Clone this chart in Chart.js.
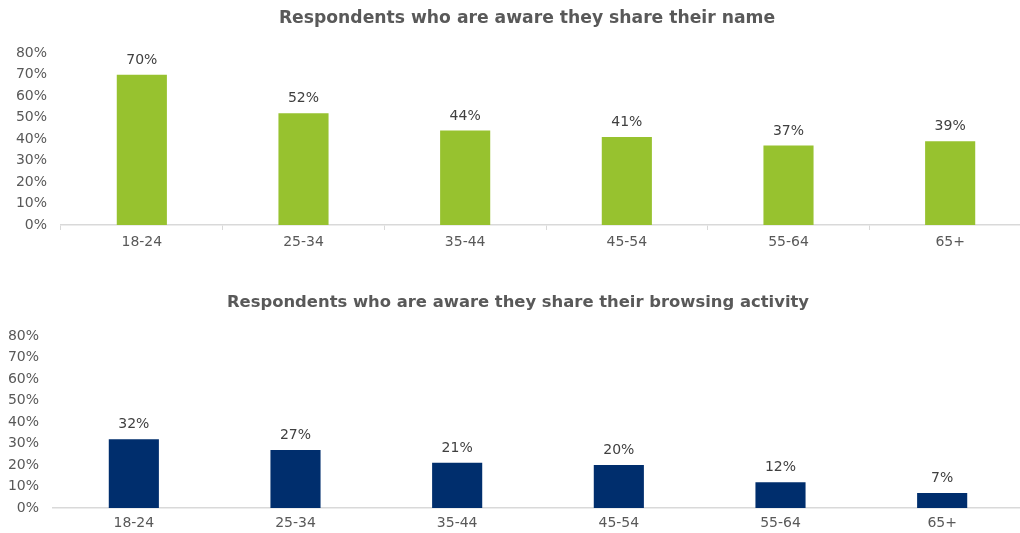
<!DOCTYPE html>
<html>
<head>
<meta charset="utf-8">
<script src="https://cdn.jsdelivr.net/npm/chart.js@4.4.1/dist/chart.umd.min.js"></script>
<style>
  html, body { margin: 0; padding: 0; background: #fff; overflow: hidden; }
  body { width: 1020px; height: 533px; position: relative; }
  canvas { position: absolute; left: 0; }
</style>
</head>
<body>
<canvas id="nameChart" width="1054" height="260" style="top:0"></canvas>
<canvas id="browsingChart" width="1036" height="258" style="top:283px"></canvas>
<script>
const ageGroups = ["18-24", "25-34", "35-44", "45-54", "55-64", "65+"];
const awareName = [70, 52, 44, 41, 37, 39];
const awareBrowsing = [32, 27, 21, 20, 12, 7];

const FONT = "'DejaVu Sans', Verdana, sans-serif";
const GREY = "#595959";

// draws "NN%" above each bar
const valueLabels = {
  id: "valueLabels",
  afterDatasetsDraw(chart) {
    const ctx = chart.ctx;
    const values = chart.data.datasets[0].data;
    ctx.save();
    ctx.font = "14px " + FONT;
    ctx.fillStyle = "#404040";
    ctx.textAlign = "center";
    ctx.textBaseline = "alphabetic";
    chart.getDatasetMeta(0).data.forEach((bar, i) => {
      ctx.fillText(values[i] + "%", bar.x, bar.y - 11);
    });
    ctx.restore();
  }
};

// nudges the title block sideways (the canvas is wider than the page)
const titleShift = {
  id: "titleShift",
  afterLayout(chart, args, opts) {
    const block = chart.titleBlock;
    if (block) {
      block.left += opts.dx;
      block.right += opts.dx;
    }
  }
};

function makeChart(id, title, values, color, cfg) {
  return new Chart(document.getElementById(id), {
    type: "bar",
    data: {
      labels: ageGroups,
      datasets: [{
        data: values,
        backgroundColor: color,
        categoryPercentage: 0.31,
        barPercentage: 1
      }]
    },
    options: {
      responsive: false,
      animation: false,
      layout: { padding: { left: 0, top: 0, right: cfg.padRight, bottom: cfg.padBottom } },
      plugins: {
        legend: { display: false },
        tooltip: { enabled: false },
        titleShift: { dx: cfg.titleDx },
        title: {
          display: true,
          text: title,
          color: GREY,
          font: { family: FONT, size: cfg.titleSize, weight: "bold" },
          padding: cfg.titlePad
        }
      },
      scales: {
        x: {
          grid: {
            display: cfg.ticks,
            drawOnChartArea: false,
            drawTicks: cfg.ticks,
            tickLength: 5,
            color: "#d9d9d9"
          },
          border: { display: true, color: "#d9d9d9", width: 1.5 },
          ticks: {
            color: GREY,
            font: { family: FONT, size: 14 },
            padding: cfg.ticks ? 4 : 7
          }
        },
        y: {
          min: 0,
          max: 80,
          grid: { display: false, drawTicks: false },
          border: { display: false },
          ticks: {
            stepSize: 10,
            color: GREY,
            padding: 14,
            font: { family: FONT, size: 14 },
            callback: (v) => v + "%"
          },
          afterFit(scale) {
            scale.width = cfg.axisWidth;
          }
        }
      }
    },
    plugins: [valueLabels, titleShift]
  });
}

makeChart("nameChart", "Respondents who are aware they share their name",
  awareName, "#97c22f",
  { axisWidth: 61, padRight: 23, padBottom: 5.2, ticks: true, titleDx: 11.5,
    titleSize: 17.2, titlePad: { top: 8, bottom: 24.6 } });

makeChart("browsingChart", "Respondents who are aware they share their browsing activity",
  awareBrowsing, "#002e6d",
  { axisWidth: 53, padRight: 13, padBottom: 2.2, ticks: false, titleDx: 6.5,
    titleSize: 16.4, titlePad: { top: 10, bottom: 23.3 } });
</script>
</body>
</html>
